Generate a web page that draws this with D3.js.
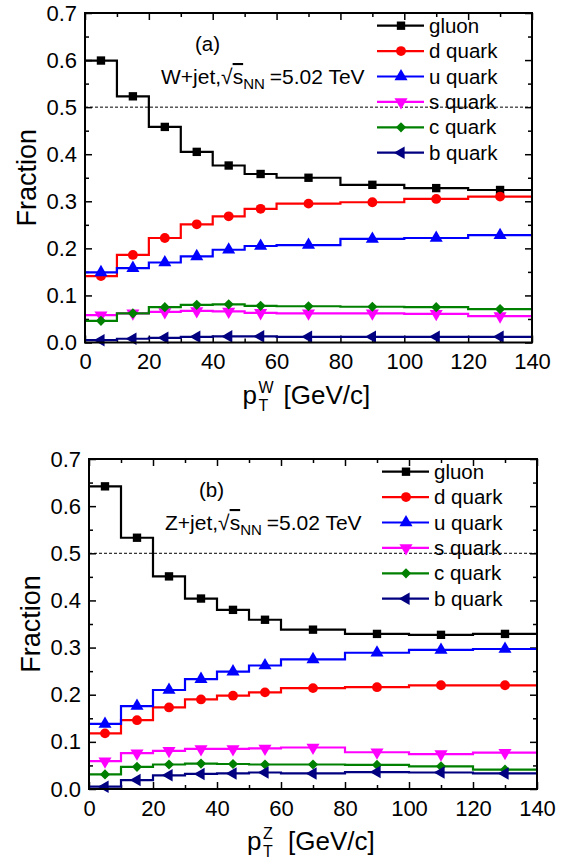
<!DOCTYPE html>
<html>
<head>
<meta charset="utf-8">
<script src="https://cdn.jsdelivr.net/npm/d3@7"></script>
<style>
  body { margin: 0; background: #fff; }
  svg text { font-family: "Liberation Sans", Arial, sans-serif; fill: #000; }
</style>
</head>
<body>
<div id="chart"></div>
<script>
// bin edges and bin centres in pT [GeV/c]
var binEdges = [0, 10, 20, 30, 40, 50, 60, 80, 100, 120, 140];
var binCenters = [5, 15, 25, 35, 45, 55, 70, 90, 110, 130];

var partonNames = ["gluon", "d quark", "u quark", "s quark", "c quark", "b quark"];

// (a) W+jet
var gluonW = [0.599, 0.523, 0.458, 0.405, 0.376, 0.358, 0.350, 0.335, 0.328, 0.324];
var dQuarkW = [0.141, 0.186, 0.222, 0.251, 0.268, 0.284, 0.295, 0.298, 0.305, 0.310];
var uQuarkW = [0.149, 0.158, 0.170, 0.183, 0.197, 0.205, 0.207, 0.220, 0.222, 0.228];
var sQuarkW = [0.058, 0.062, 0.065, 0.067, 0.066, 0.063, 0.062, 0.062, 0.061, 0.056];
var cQuarkW = [0.046, 0.062, 0.075, 0.080, 0.081, 0.078, 0.077, 0.076, 0.075, 0.071];
var bQuarkW = [0.005, 0.008, 0.010, 0.012, 0.013, 0.013, 0.012, 0.012, 0.012, 0.012];

// (b) Z+jet
var gluonZ = [0.642, 0.533, 0.451, 0.404, 0.380, 0.359, 0.338, 0.329, 0.327, 0.329];
var dQuarkZ = [0.118, 0.146, 0.173, 0.190, 0.198, 0.205, 0.214, 0.216, 0.220, 0.220];
var uQuarkZ = [0.138, 0.176, 0.210, 0.233, 0.249, 0.262, 0.275, 0.289, 0.295, 0.297];
var sQuarkZ = [0.059, 0.076, 0.081, 0.085, 0.085, 0.086, 0.088, 0.078, 0.074, 0.077];
var cQuarkZ = [0.031, 0.047, 0.052, 0.054, 0.053, 0.052, 0.052, 0.051, 0.048, 0.041];
var bQuarkZ = [0.005, 0.019, 0.029, 0.032, 0.033, 0.035, 0.033, 0.036, 0.035, 0.033];

var xTicks = [0, 20, 40, 60, 80, 100, 120, 140];
var yTicks = [0.0, 0.1, 0.2, 0.3, 0.4, 0.5, 0.6, 0.7];

// styles per parton
var colors = ["#000000", "#ff0000", "#0000ff", "#ff00ff", "#008000", "#000080"];
var symbols = [
    {type: d3.symbolSquare, size: 70, rot: 0},
    {type: d3.symbolCircle, size: 76, rot: 0},
    {type: d3.symbolTriangle, size: 74, rot: 0},
    {type: d3.symbolTriangle, size: 74, rot: 180},
    {type: d3.symbolSquare, size: 52, rot: 45},
    {type: d3.symbolTriangle, size: 68, rot: -90}
];

var width = 570, height = 860;

var svg = d3.select("#chart").append("svg")
    .attr("width", width)
    .attr("height", height);

var panels = [
    {left: 85, top: 13, right: 532, bottom: 342.5, tag: "(a)", boson: "W", prefix: "W+jet,",
     series: [gluonW, dQuarkW, uQuarkW, sQuarkW, cQuarkW, bQuarkW]},
    {left: 89, top: 459, right: 537, bottom: 789, tag: "(b)", boson: "Z", prefix: "Z+jet,",
     series: [gluonZ, dQuarkZ, uQuarkZ, sQuarkZ, cQuarkZ, bQuarkZ]}
];

panels.forEach(function(p) { drawPanel(p); });

function drawPanel(p) {
    var x = d3.scaleLinear().domain([0, 140]).range([p.left, p.right]);
    var y = d3.scaleLinear().domain([0, 0.7]).range([p.bottom, p.top]);
    var g = svg.append("g");

    // minor ticks
    var xMinor = d3.range(10, 140, 20);
    var yMinor = d3.range(0.05, 0.7, 0.1);

    g.append("g").attr("transform", "translate(0," + p.bottom + ")")
        .call(d3.axisBottom(x).tickValues(xTicks).tickSize(-7).tickPadding(11).tickFormat(d3.format("d")))
        .call(styleAxis);
    g.append("g").attr("transform", "translate(0," + p.bottom + ")")
        .call(d3.axisBottom(x).tickValues(xMinor).tickSize(-4).tickFormat(""))
        .call(styleAxis);
    g.append("g").attr("transform", "translate(0," + p.top + ")")
        .call(d3.axisTop(x).tickValues(xTicks).tickSize(-7).tickFormat(""))
        .call(styleAxis);
    g.append("g").attr("transform", "translate(0," + p.top + ")")
        .call(d3.axisTop(x).tickValues(xMinor).tickSize(-4).tickFormat(""))
        .call(styleAxis);
    g.append("g").attr("transform", "translate(" + p.left + ",0)")
        .call(d3.axisLeft(y).tickValues(yTicks).tickSize(-7).tickPadding(8).tickFormat(d3.format(".1f")))
        .call(styleAxis);
    g.append("g").attr("transform", "translate(" + p.left + ",0)")
        .call(d3.axisLeft(y).tickValues(yMinor).tickSize(-4).tickFormat(""))
        .call(styleAxis);
    g.append("g").attr("transform", "translate(" + p.right + ",0)")
        .call(d3.axisRight(y).tickValues(yTicks).tickSize(-7).tickFormat(""))
        .call(styleAxis);
    g.append("g").attr("transform", "translate(" + p.right + ",0)")
        .call(d3.axisRight(y).tickValues(yMinor).tickSize(-4).tickFormat(""))
        .call(styleAxis);

    // dashed line at 0.5
    g.append("line")
        .attr("x1", x(0)).attr("x2", x(140))
        .attr("y1", y(0.5)).attr("y2", y(0.5))
        .attr("stroke", "#000")
        .attr("stroke-width", 1)
        .attr("stroke-dasharray", "3,2");

    // step lines
    var line = d3.line()
        .x(function(d) { return x(d[0]); })
        .y(function(d) { return y(d[1]); })
        .curve(d3.curveStepAfter);

    p.series.forEach(function(vals, i) {
        var pts = binEdges.map(function(e, k) {
            return [e, vals[Math.min(k, vals.length - 1)]];
        });
        g.append("path")
            .datum(pts)
            .attr("d", line)
            .attr("fill", "none")
            .attr("stroke", colors[i])
            .attr("stroke-width", 2.2);

        g.selectAll(null)
            .data(vals)
          .enter().append("path")
            .attr("d", d3.symbol().type(symbols[i].type).size(symbols[i].size))
            .attr("transform", function(d, k) {
                return "translate(" + x(binCenters[k]) + "," + y(d) + ") rotate(" + symbols[i].rot + ")";
            })
            .attr("fill", colors[i]);
    });

    // legend
    var leg = g.append("g");
    partonNames.forEach(function(name, i) {
        var ly = p.top + 12.7 + i * 25.4;
        var lx = p.right - 155;
        leg.append("line")
            .attr("x1", lx).attr("x2", lx + 47)
            .attr("y1", ly).attr("y2", ly)
            .attr("stroke", colors[i])
            .attr("stroke-width", 2.2);
        leg.append("path")
            .attr("d", d3.symbol().type(symbols[i].type).size(symbols[i].size))
            .attr("transform", "translate(" + (lx + 24) + "," + ly + ") rotate(" + symbols[i].rot + ")")
            .attr("fill", colors[i]);
        leg.append("text")
            .attr("x", lx + 52)
            .attr("y", ly + 7)
            .attr("font-size", 20.5)
            .text(name);
    });

    // annotations
    g.append("text")
        .attr("x", p.left + 110)
        .attr("y", p.top + 38)
        .attr("font-size", 20.5)
        .text(p.tag);

    var t = g.append("text")
        .attr("x", p.left + 76)
        .attr("y", p.top + 71)
        .attr("font-size", 21);
    t.append("tspan").text(p.prefix + "\u221A");
    t.append("tspan").style("text-decoration", "overline").text("s");
    t.append("tspan").attr("font-size", 15).attr("dy", 5).text("NN");
    t.append("tspan").attr("dy", -5).attr("dx", 5).text("=5.02 TeV");

    // axis titles
    var cx = (p.left + p.right) / 2;
    var by = p.bottom + 61;
    var xt = g.append("g").attr("transform", "translate(" + (cx - 66) + "," + by + ")");
    xt.append("text").attr("font-size", 26).text("p");
    xt.append("text").attr("x", 16).attr("y", -11).attr("font-size", 16).text(p.boson);
    xt.append("text").attr("x", 16).attr("y", 7).attr("font-size", 16).text("T");
    xt.append("text").attr("x", 41).attr("font-size", 26).text("[GeV/c]");

    g.append("text")
        .attr("transform", "translate(" + (p.left - 49) + "," + ((p.top + p.bottom) / 2) + ") rotate(-90)")
        .attr("text-anchor", "middle")
        .attr("font-size", 27)
        .text("Fraction");

    // frame
    g.append("rect")
        .attr("x", p.left).attr("y", p.top)
        .attr("width", p.right - p.left)
        .attr("height", p.bottom - p.top)
        .attr("fill", "none")
        .attr("stroke", "#000")
        .attr("stroke-width", 2);
}

function styleAxis(sel) {
    sel.select(".domain").remove();
    sel.selectAll(".tick line").attr("stroke", "#000").attr("stroke-width", 1.5);
    sel.selectAll(".tick text").attr("font-size", 22).attr("font-family", "Liberation Sans, Arial, sans-serif");
}
</script>
</body>
</html>
